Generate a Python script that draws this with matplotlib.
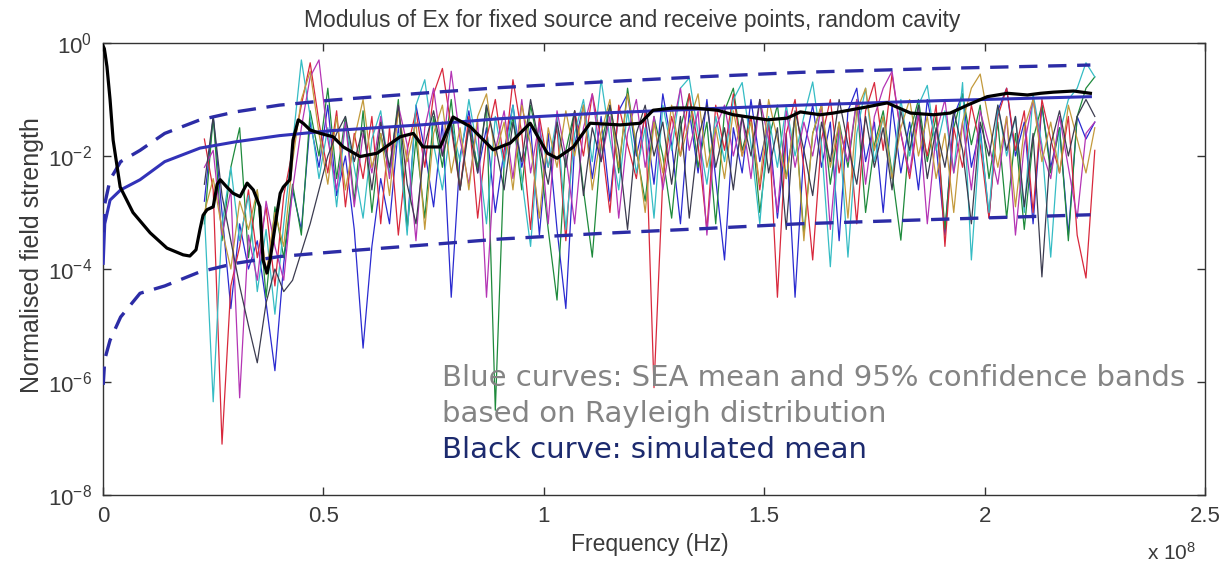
import numpy as np
import matplotlib
matplotlib.use("Agg")
import matplotlib.pyplot as plt
from matplotlib.ticker import FixedLocator, NullLocator, LogFormatterSciNotation

plt.rcParams['font.family'] = ['Liberation Sans', 'DejaVu Sans']

# ---------------- data (frequency in units of 1e8 Hz, values as log10 of field) ----------------
trace_freq = [0.23, 0.25, 0.27, 0.29, 0.31, 0.33, 0.35, 0.37, 0.39, 0.41,
              0.43, 0.45, 0.47, 0.49, 0.51, 0.53, 0.55, 0.57, 0.59, 0.61,
              0.63, 0.65, 0.67, 0.69, 0.71, 0.73, 0.75, 0.77, 0.79, 0.81,
              0.83, 0.85, 0.87, 0.89, 0.91, 0.93, 0.95, 0.97, 0.99, 1.01,
              1.03, 1.05, 1.07, 1.09, 1.11, 1.13, 1.15, 1.17, 1.19, 1.21,
              1.23, 1.25, 1.27, 1.29, 1.31, 1.33, 1.35, 1.37, 1.39, 1.41,
              1.43, 1.45, 1.47, 1.49, 1.51, 1.53, 1.55, 1.57, 1.59, 1.61,
              1.63, 1.65, 1.67, 1.69, 1.71, 1.73, 1.75, 1.77, 1.79, 1.81,
              1.83, 1.85, 1.87, 1.89, 1.91, 1.93, 1.95, 1.97, 1.99, 2.01,
              2.03, 2.05, 2.07, 2.09, 2.11, 2.13, 2.15, 2.17, 2.19, 2.21,
              2.23, 2.25]

trace_blue = [-2.8, -1.3, -3.0, -4.7, -3.2, -4.0, -3.5, -4.6, -5.8, -3.9,
              -2.6, -3.3, -1.4, -2.2, -1.1, -2.7, -2.0, -3.3, -5.4, -3.6,
              -2.4, -3.2, -1.5, -3.3, -1.1, -1.9, -2.9, -1.4, -4.5, -2.0,
              -1.2, -2.3, -1.5, -3.0, -1.9, -1.1, -2.2, -1.5, -3.4, -1.6,
              -3.3, -4.7, -1.8, -1.1, -2.4, -1.3, -2.8, -1.2, -0.9, -2.0,
              -1.3, -2.5, -0.9, -1.8, -3.2, -1.2, -2.3, -1.0, -2.4, -3.84,
              -1.5, -2.3, -1.0, -2.1, -1.4, -3.1, -1.6, -4.5, -1.9, -1.1,
              -2.2, -1.4, -3.5, -1.2, -0.8, -2.1, -1.4, -3.0, -1.1, -2.3,
              -1.4, -2.6, -1.0, -1.8, -3.4, -1.3, -0.9, -2.2, -1.5, -3.1,
              -1.2, -0.8, -2.0, -1.4, -3.2, -1.1, -2.2, -1.5, -3.4, -1.3,
              -1.7, -1.4]

trace_green = [-3.2, -1.3, -3.5, -2.2, -1.5, -3.8, -2.6, -4.5, -2.9, -3.8,
               -2.5, -3.4, -1.2, -2.0, -0.8, -2.4, -1.3, -2.8, -1.2, -3.0,
               -1.6, -2.3, -1.0, -3.3, -1.7, -3.1, -1.3, -2.2, -1.0, -2.6,
               -1.4, -2.2, -1.1, -6.5, -2.1, -1.3, -2.6, -1.1, -1.9, -3.3,
               -4.55, -1.9, -1.2, -2.6, -3.79, -1.8, -1.1, -2.3, -0.8, -1.9,
               -2.8, -1.3, -2.0, -3.1, -1.5, -0.9, -2.2, -1.4, -3.2, -1.2,
               -0.8, -1.9, -1.3, -3.0, -1.7, -1.1, -2.4, -1.3, -3.4, -1.6,
               -1.1, -2.5, -1.4, -2.2, -1.0, -3.0, -1.8, -1.2, -2.3, -3.49,
               -1.6, -1.0, -2.1, -1.3, -3.3, -1.5, -0.9, -1.8, -1.1, -2.4,
               -1.4, -3.1, -1.6, -3.3, -1.7, -1.1, -2.3, -1.5, -3.5, -1.3,
               -0.8, -0.6]

trace_red = [-1.7, -2.6, -7.1, -4.3, -3.6, -2.6, -3.8, -2.9, -4.3, -2.7,
             -1.9, -1.1, -0.35, -1.4, -2.3, -1.2, -2.9, -1.6, -2.4, -1.3,
             -3.2, -1.5, -3.4, -1.9, -1.2, -2.2, -0.9, -0.45, -1.5, -2.6,
             -1.3, -3.1, -1.7, -1.0, -2.1, -0.65, -1.6, -3.3, -1.3, -2.2,
             -1.5, -3.5, -1.2, -2.0, -0.9, -1.7, -3.0, -1.1, -1.8, -2.4,
             -1.2, -6.1, -2.4, -1.3, -2.0, -0.9, -1.8, -3.3, -1.1, -1.9,
             -0.9, -2.0, -1.3, -2.6, -1.4, -4.5, -1.6, -1.0, -2.2, -3.84,
             -1.7, -1.0, -2.3, -1.4, -3.2, -1.2, -0.7, -1.9, -0.55, -1.6,
             -2.4, -1.3, -2.0, -1.1, -3.6, -1.5, -2.2, -1.1, -1.8, -3.1,
             -1.3, -0.8, -1.9, -1.2, -3.0, -1.0, -1.7, -2.3, -1.3, -3.4,
             -4.16, -1.9]

trace_cyan = [-3.0, -6.35, -3.2, -2.2, -3.5, -2.7, -4.4, -3.3, -4.8, -3.2,
              -1.8, -0.3, -1.3, -2.4, -1.5, -2.9, -1.4, -2.2, -3.1, -1.7,
              -1.2, -2.3, -1.6, -3.4, -1.1, -0.65, -1.8, -2.6, -1.4, -2.1,
              -1.0, -1.9, -3.2, -1.3, -2.2, -1.1, -2.4, -3.6, -1.5, -2.2,
              -1.3, -3.3, -1.6, -1.0, -2.1, -0.65, -1.7, -2.6, -1.2, -2.3,
              -1.5, -3.1, -1.1, -1.9, -0.8, -0.62, -1.6, -2.5, -1.3, -2.1,
              -1.0, -0.7, -1.8, -3.2, -1.3, -2.2, -1.1, -2.0, -1.3, -0.69,
              -1.8, -3.96, -1.5, -3.79, -1.6, -0.8, -2.1, -1.3, -2.4, -1.0,
              -2.0, -1.1, -0.75, -1.9, -1.2, -2.3, -0.7, -3.84, -1.6, -3.0,
              -1.1, -2.0, -1.3, -3.0, -0.9, -1.8, -3.79, -1.6, -1.0, -0.8,
              -0.35, -0.6]

trace_magenta = [-2.2, -1.9, -3.4, -2.6, -6.28, -3.4, -4.2, -2.8, -3.6, -4.2,
                 -2.6, -1.5, -0.6, -0.3, -1.7, -2.6, -1.4, -2.9, -1.6, -2.3,
                 -1.3, -2.4, -1.1, -1.8, -3.5, -1.5, -0.8, -2.0, -0.5, -1.7,
                 -2.5, -1.4, -4.5, -1.9, -1.2, -2.4, -1.0, -2.3, -1.4, -3.2,
                 -1.2, -2.0, -3.2, -1.5, -0.9, -2.1, -1.3, -3.1, -1.6, -1.0,
                 -2.2, -1.3, -2.6, -1.6, -0.8, -1.9, -1.2, -3.4, -1.5, -1.1,
                 -2.0, -1.3, -2.4, -1.0, -1.7, -3.0, -1.2, -2.2, -1.4, -2.0,
                 -1.1, -3.3, -1.5, -2.1, -1.0, -2.5, -1.3, -0.8, -0.5, -1.6,
                 -2.3, -1.2, -3.2, -1.6, -1.0, -2.3, -1.4, -2.6, -1.2, -1.8,
                 -2.5, -1.3, -3.4, -1.8, -1.0, -1.9, -2.4, -1.3, -2.2, -3.1,
                 -1.6, -1.4]

trace_olive = [-3.0, -2.4, -3.3, -4.0, -2.8, -3.3, -2.6, -4.1, -3.0, -3.6,
               -2.1, -1.0, -0.5, -1.6, -2.5, -1.3, -2.6, -1.7, -1.0, -2.2,
               -1.6, -2.7, -1.2, -2.1, -1.4, -3.3, -1.6, -1.1, -2.3, -1.5,
               -2.6, -1.3, -0.9, -2.0, -1.4, -2.6, -1.1, -1.8, -3.1, -1.5,
               -2.2, -1.2, -2.0, -1.1, -2.6, -1.6, -1.0, -2.2, -0.9, -1.8,
               -3.0, -1.4, -2.3, -1.1, -2.0, -1.4, -0.9, -2.2, -1.5, -2.4,
               -1.2, -2.0, -1.4, -2.5, -1.0, -1.7, -2.4, -1.3, -3.5, -1.6,
               -1.1, -2.2, -1.4, -3.1, -1.2, -0.8, -1.9, -1.3, -2.4, -1.5,
               -1.0, -2.0, -1.3, -2.4, -1.6, -3.0, -1.4, -0.8, -0.55, -1.4,
               -2.2, -1.3, -2.9, -1.5, -1.0, -2.1, -1.4, -2.3, -1.1, -1.7,
               -2.3, -1.5]

trace_gray = [-2.5, -1.3, -2.7, -3.5, -4.3, -5.0, -5.66, -4.6, -4.0, -4.4,
              -4.2, -3.7, -3.2, -2.6, -2.0, -1.6, -1.3, -2.1, -1.5, -2.6,
              -1.4, -2.2, -1.1, -2.5, -3.2, -1.8, -1.2, -2.0, -1.4, -2.6,
              -1.5, -2.3, -1.1, -1.8, -2.6, -1.4, -2.1, -1.0, -1.8, -2.5,
              -1.4, -2.2, -1.2, -2.7, -1.5, -2.1, -1.1, -1.9, -3.3, -1.6,
              -1.1, -2.0, -1.4, -2.5, -1.3, -3.1, -1.7, -1.1, -2.2, -1.5,
              -2.6, -1.3, -2.0, -1.0, -2.3, -1.5, -3.3, -1.2, -1.9, -2.7,
              -1.4, -2.1, -1.0, -1.8, -2.5, -1.3, -2.2, -1.5, -2.6, -1.2,
              -1.9, -1.1, -2.4, -1.5, -2.2, -1.2, -1.9, -3.2, -1.4, -2.0,
              -1.1, -1.9, -1.3, -2.9, -1.6, -4.14, -1.8, -1.2, -2.0, -1.3,
              -1.0, -1.3]

mean_freq = [0.0, 0.003, 0.005, 0.009, 0.016, 0.023, 0.039, 0.068, 0.107, 0.145,
             0.182, 0.197, 0.211, 0.220, 0.227, 0.236, 0.250, 0.259, 0.266, 0.281,
             0.295, 0.311, 0.327, 0.341, 0.356, 0.363, 0.372, 0.379, 0.395, 0.402,
             0.409, 0.424, 0.431, 0.443, 0.454, 0.470, 0.493, 0.522, 0.545, 0.583,
             0.622, 0.674, 0.704, 0.726, 0.765, 0.794, 0.833, 0.885, 0.924, 0.969,
             1.008, 1.030, 1.067, 1.105, 1.173, 1.219, 1.248, 1.294, 1.339, 1.394,
             1.430, 1.507, 1.552, 1.582, 1.627, 1.657, 1.734, 1.779, 1.832, 1.884,
             1.922, 1.961, 2.006, 2.052, 2.097, 2.127, 2.156, 2.202, 2.240]
sim_mean = [-0.05, -0.1, -0.2, -0.42, -1.0, -1.72, -2.55, -3.0, -3.36, -3.63,
            -3.75, -3.77, -3.66, -3.3, -3.05, -2.95, -2.9, -2.5, -2.42, -2.55,
            -2.66, -2.72, -2.48, -2.6, -2.9, -3.84, -4.07, -3.84, -3.0, -2.66,
            -2.55, -2.42, -1.72, -1.36, -1.42, -1.54, -1.6, -1.66, -1.84, -2.01,
            -1.95, -1.66, -1.6, -1.84, -1.84, -1.31, -1.48, -1.89, -1.77, -1.42,
            -1.95, -2.04, -1.84, -1.42, -1.45, -1.42, -1.19, -1.15, -1.15, -1.19,
            -1.27, -1.36, -1.33, -1.22, -1.27, -1.24, -1.13, -1.06, -1.24, -1.27,
            -1.24, -1.10, -0.95, -0.89, -0.92, -0.89, -0.87, -0.85, -0.89]

sea_freq = [0.0005, 0.004, 0.016, 0.04, 0.084, 0.14, 0.22, 0.3, 0.4, 0.52,
            0.72, 0.9, 1.13, 1.35, 1.58, 1.9, 2.24]
sea_mean = [-3.9, -3.2, -2.78, -2.6, -2.42, -2.1, -1.86, -1.75, -1.64, -1.55,
            -1.45, -1.34, -1.24, -1.17, -1.10, -1.02, -0.95]
sea_upper = [-3.35, -2.85, -2.42, -2.1, -1.9, -1.6, -1.36, -1.22, -1.1, -1.01,
             -0.89, -0.79, -0.69, -0.6, -0.52, -0.45, -0.39]
sea_lower = [-6.05, -5.6, -5.26, -4.85, -4.43, -4.3, -4.05, -3.9, -3.78, -3.7,
             -3.58, -3.47, -3.37, -3.29, -3.2, -3.12, -3.04]

x_ticks = [0, 0.5, 1, 1.5, 2, 2.5]
x_tick_labels = ['0', '0.5', '1', '1.5', '2', '2.5']
y_ticks = [1e-8, 1e-6, 1e-4, 1e-2, 1e0]

traces = [trace_blue, trace_green, trace_red, trace_cyan, trace_magenta, trace_olive, trace_gray]
trace_colors = ['#2a2ad0', '#1e8a3c', '#d8283c', '#35bcc4', '#b434b4', '#c39a3c', '#3c3c50']

# ---------------- figure ----------------
W, H = 1230, 566
fig = plt.figure(figsize=(W / 100, H / 100), dpi=100)
ax = fig.add_axes([103 / W, 1 - 495 / H, 1102 / W, 452 / H])

for vals, col in zip(traces, trace_colors):
    ax.plot(trace_freq, 10 ** np.array(vals), color=col, lw=0.9, zorder=2)

sea_col = '#2c2ca6'
ax.plot(sea_freq, 10 ** np.array(sea_mean), color='#3232b8', lw=2.2, zorder=3)
ax.plot(sea_freq, 10 ** np.array(sea_upper), color=sea_col, lw=2.4,
        linestyle=(0, (5.5, 3.2)), zorder=3)
ax.plot(sea_freq, 10 ** np.array(sea_lower), color=sea_col, lw=2.4,
        linestyle=(0, (5.5, 3.2)), zorder=3)
ax.plot(mean_freq, 10 ** np.array(sim_mean), color='black', lw=2.3, zorder=4)

ax.set_yscale('log')
ax.set_ylim(1e-8, 1e0)
ax.set_xlim(0, 2.5)
ax.yaxis.set_major_locator(FixedLocator(y_ticks))
ax.yaxis.set_minor_locator(NullLocator())
ax.yaxis.set_major_formatter(LogFormatterSciNotation())
ax.set_xticks(x_ticks)
ax.set_xticklabels(x_tick_labels)
ax.xaxis.set_minor_locator(NullLocator())
ax.tick_params(direction='in', top=True, right=True, length=6, width=1,
               labelsize=16, labelcolor='#3a3a3a', color='#333333')
ax.tick_params(axis='x', pad=8)
ax.tick_params(axis='y', pad=8)
for s in ax.spines.values():
    s.set_color('#333333')
    s.set_linewidth(1.0)

txtc = '#3a3a3a'
fig.text(632 / W, 1 - 20 / H, 'Modulus of Ex for fixed source and receive points, random cavity',
         ha='center', va='center', fontsize=16.5, color=txtc)
fig.text(650 / W, 1 - 545 / H, 'Frequency (Hz)', ha='center', va='center',
         fontsize=16.5, color=txtc)
fig.text(32 / W, 1 - 255 / H, 'Normalised field strength', ha='center', va='center',
         rotation=90, fontsize=18, color=txtc)
fig.text(1172 / W, 1 - 553 / H, r'x $\mathdefault{10^{8}}$', ha='center', va='center',
         fontsize=15, color=txtc)

ann_font = ['DejaVu Sans']
fig.text(442 / W, 1 - 378 / H, 'Blue curves: SEA mean and 95% confidence bands',
         ha='left', va='center', fontsize=21, color='#848484', family=ann_font)
fig.text(442 / W, 1 - 414 / H, 'based on Rayleigh distribution',
         ha='left', va='center', fontsize=21, color='#848484', family=ann_font)
fig.text(442 / W, 1 - 450 / H, 'Black curve: simulated mean',
         ha='left', va='center', fontsize=21, color='#1c2a6e', family=ann_font)

fig.savefig('out.png', dpi=100, facecolor='white')
